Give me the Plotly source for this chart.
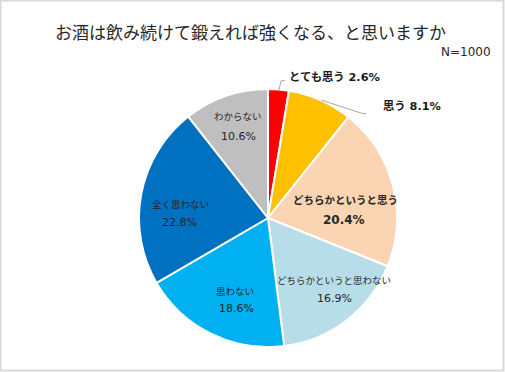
import plotly.graph_objects as go

labels = ["とても思う", "思う", "どちらかというと思う", "どちらかというと思わない", "思わない", "全く思わない", "わからない"]
values = [2.6, 8.1, 20.4, 16.9, 18.6, 22.8, 10.6]
colors = ["#FF0000", "#FFC000", "#FBD4B4", "#B7DEE8", "#00B0F0", "#0070C0", "#BFBFBF"]
title = "お酒は飲み続けて鍛えれば強くなる、と思いますか"
note = "N=1000"

W, H = 505, 372
CJK = "Noto Sans CJK JP"
MIX = "DejaVu Sans, Noto Sans CJK JP"
TXT = "#262626"


def px(x):
    return x / W


def py(y):
    return (H - y) / H


fig = go.Figure(go.Pie(
    labels=labels, values=values, sort=False, direction="clockwise", rotation=0,
    marker=dict(colors=colors, line=dict(color="white", width=2)),
    textinfo="none",
    domain=dict(x=[px(139), px(397)], y=[py(347), py(89)]),
    showlegend=False, hoverinfo="label+percent",
))

# label placement (pixel positions of name line / value line) for inside labels, index -> layout
inside_pos = {
    2: ((345, 199), (344, 220)),
    3: ((334, 280), (334, 298.5)),
    4: ((235, 291), (236, 308.5)),
    5: ((180, 204), (179.5, 222.5)),
    6: ((238, 116), (238, 136)),
}

annos = [
    dict(text=title, x=px(250), y=py(31.5), xref="paper", yref="paper", showarrow=False,
         font=dict(family=CJK, size=17, color=TXT), xanchor="center", yanchor="middle"),
    dict(text=note, x=px(493), y=py(52), xref="paper", yref="paper", showarrow=False,
         font=dict(family="DejaVu Sans", size=12, color=TXT), xanchor="right", yanchor="middle"),
]

for i, ((nx, ny), (vx, vy)) in inside_pos.items():
    bold = i == 2
    name = f"<b>{labels[i]}</b>" if bold else labels[i]
    val = f"<b>{values[i]:.1f}%</b>" if bold else f"{values[i]:.1f}%"
    annos.append(dict(text=name, x=px(nx), y=py(ny), xref="paper", yref="paper", showarrow=False,
                      font=dict(family=CJK, size=10.5 if bold else 9.5, color=TXT),
                      xanchor="center", yanchor="middle"))
    annos.append(dict(text=val, x=px(vx), y=py(vy), xref="paper", yref="paper", showarrow=False,
                      font=dict(family="DejaVu Sans", size=12 if bold else 11, color=TXT),
                      xanchor="center", yanchor="middle"))

outside_pos = {0: (286.5, 77.5), 1: (380.5, 106.5)}
for i, (x, y) in outside_pos.items():
    annos.append(dict(text=f"<b>{labels[i]} {values[i]:.1f}%</b>", x=px(x), y=py(y), xref="paper", yref="paper",
                      showarrow=False, font=dict(family=MIX, size=11.3, color="#1a1a1a"),
                      xanchor="left", yanchor="middle"))

shapes = [
    dict(type="rect", xref="paper", yref="paper", x0=px(0.5), x1=px(503.5), y0=py(370.5), y1=py(0.5),
         line=dict(color="#D9D9D9", width=2)),
    dict(type="path", xref="paper", yref="paper",
         path=f"M {px(279)} {py(90)} L {px(281)} {py(80.7)} L {px(285)} {py(80.7)}",
         line=dict(color="#A6A6A6", width=1)),
    dict(type="path", xref="paper", yref="paper",
         path=f"M {px(321)} {py(100)} L {px(361.7)} {py(113.3)} L {px(366)} {py(113.5)}",
         line=dict(color="#A6A6A6", width=1)),
]

fig.update_layout(
    width=W, height=H, margin=dict(l=0, r=0, t=0, b=0),
    paper_bgcolor="white", plot_bgcolor="white",
    annotations=annos, shapes=shapes,
)

fig.write_html("out.html", config={"displayModeBar": False},
               post_script="document.body.style.margin='0';document.body.style.overflow='hidden';")
